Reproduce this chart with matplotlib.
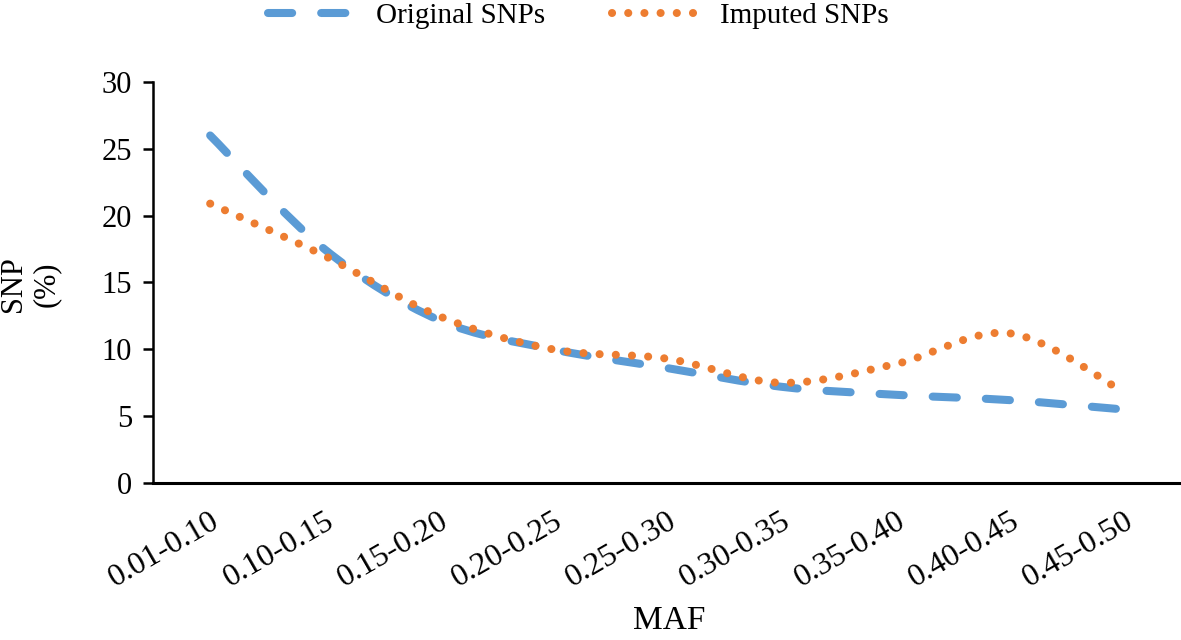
import numpy as np
import matplotlib
matplotlib.use("Agg")
import matplotlib.pyplot as plt
from matplotlib.path import Path
from matplotlib.patches import PathPatch
from matplotlib.lines import Line2D

# MAF bins and SNP share (%)
categories = ["0.01-0.10", "0.10-0.15", "0.15-0.20", "0.20-0.25", "0.25-0.30",
              "0.30-0.35", "0.35-0.40", "0.40-0.45", "0.45-0.50"]
original_snps = [26.0, 17.5, 12.2, 10.0, 8.6, 7.2, 6.6, 6.2, 5.5]
imputed_snps = [20.9, 17.0, 12.5, 10.0, 9.3, 7.5, 8.9, 11.2, 6.8]
y_ticks = [0, 5, 10, 15, 20, 25, 30]

BLUE = "#5B9BD5"
ORANGE = "#ED7D31"


def smooth_path(x, y):
    # Excel-style smoothed line: cubic bezier segments through the data points
    p = np.column_stack([x, y]).astype(float)
    n = len(p)
    verts = [p[0]]
    codes = [Path.MOVETO]
    for i in range(n - 1):
        p_prev = p[i - 1] if i > 0 else p[i]
        p_next2 = p[i + 2] if i + 2 < n else p[i + 1]
        c1 = p[i] + (p[i + 1] - p_prev) / 6
        c2 = p[i + 1] - (p_next2 - p[i]) / 6
        verts += [c1, c2, p[i + 1]]
        codes += [Path.CURVE4] * 3
    return Path(verts, codes)


def main():
    plt.rcParams["font.family"] = ["Liberation Serif", "DejaVu Serif"]
    fig = plt.figure(figsize=(11.81, 6.40), dpi=100)
    ax = fig.add_axes([0.1296, 0.2453, 0.8704, 0.6266])

    x = np.arange(len(categories))
    blue_style = (0, (3.0, 3.6))
    dot_style = (0, (0.01, 2.0))

    p1 = PathPatch(smooth_path(x, original_snps), facecolor="none", edgecolor=BLUE,
                   linewidth=5.8, linestyle=blue_style, capstyle="round", joinstyle="round")
    p2 = PathPatch(smooth_path(x, imputed_snps), facecolor="none", edgecolor=ORANGE,
                   linewidth=5.8, linestyle=dot_style, capstyle="round", joinstyle="round")
    ax.add_patch(p1)
    ax.add_patch(p2)

    ax.set_xlim(-0.5, len(categories) - 0.5)
    ax.set_ylim(0, 30)
    ax.set_yticks(y_ticks)
    ax.set_xticks(x)
    ax.set_xticklabels(categories, rotation=30, ha="right", va="top",
                       rotation_mode="anchor", fontsize=23)
    ax.tick_params(axis="y", labelsize=22, length=7, width=1.8, pad=8)
    ax.tick_params(axis="x", length=0, pad=17)

    for s in ["top", "right"]:
        ax.spines[s].set_visible(False)
    ax.spines["left"].set_linewidth(1.8)
    ax.spines["bottom"].set_linewidth(2.2)

    fig.text(30 / 1181, 1 - 284 / 640, "SNP\n(%)", fontsize=22, rotation=90,
             ha="center", va="center", multialignment="center", linespacing=1.2)
    fig.text(669 / 1181, 1 - 621 / 640, "MAF", fontsize=24, ha="center", va="center")

    handles = [
        Line2D([], [], color=BLUE, linewidth=5.8, linestyle=blue_style, dash_capstyle="round"),
        Line2D([], [], color=ORANGE, linewidth=5.8, linestyle=dot_style, dash_capstyle="round"),
    ]
    fig.legend(handles, ["Original SNPs", "Imputed SNPs"], loc="center",
               bbox_to_anchor=(0.49, 0.975), ncol=2, frameon=False, fontsize=21,
               handlelength=3.1, handletextpad=0.6, columnspacing=2.3)

    fig.savefig("out.png", dpi=100)


if __name__ == "__main__":
    main()
